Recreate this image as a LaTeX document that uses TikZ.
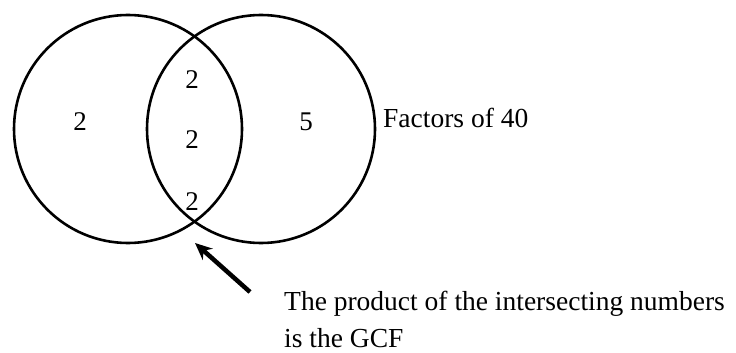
\documentclass[tikz,border=0pt]{standalone}
\usepackage{fontspec}
\setmainfont{Liberation Serif}
\usetikzlibrary{arrows.meta}

\tikzset{
    set/.style={circle, draw, line width=2.6pt, minimum size=228pt, inner sep=0pt},
    num/.style={font=\fontsize{27}{30}\selectfont},
    note/.style={font=\fontsize{27.5}{37}\selectfont, anchor=base west, inner sep=0pt}
}

\begin{document}
\begin{tikzpicture}[x=1pt, y=-1pt, >={Stealth[length=17pt, width=15pt]}]
    \useasboundingbox (0,0) rectangle (736,353);

    \node[set] (left) at (128,129) {};
    \node[set] (right) at (261,129) {};

    \node[num] (onlyleft) at (80,122) {2};
    \node[num] (onlyright) at (306,122) {5};
    \foreach \y/\n in {80/top, 140/mid, 202/low} {
        \node[num] (both\n) at (192,\y) {2};
    }

    \node[note] (label) at (383,127) {Factors of 40};
    \node[note] (gcf) at (284,310) {The product of the intersecting numbers};
    \node[note] (gcf2) at (284,347) {is the GCF};

    \coordinate (tip) at (195,243);
    \coordinate (tail) at (250,292);
    \draw[->, line width=4.5pt] (tail) -- (tip);
\end{tikzpicture}
\end{document}
